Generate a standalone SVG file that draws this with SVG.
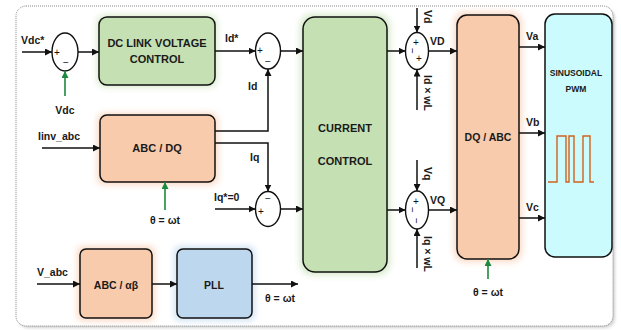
<svg xmlns="http://www.w3.org/2000/svg" width="621" height="330" viewBox="0 0 621 330">
<defs>
<style>
text{font-family:"Liberation Sans",Arial,sans-serif;font-weight:bold;fill:#1a1a1a}
.lbl{font-size:10.5px}
.box{stroke:#111;stroke-width:1.5}
.green{fill:#c5e0b3}
.orange{fill:#f8cbad}
.blue{fill:#bdd7ee}
.cyan{fill:#ccfbfd}
.sum{fill:#fff;stroke:#111;stroke-width:1.4}
.sign{font-size:10px;font-weight:normal;fill:#111}
.ln{fill:none;stroke:#111;stroke-width:1.5}
.gl{fill:none;stroke:#1b8a3c;stroke-width:1.6}
.halo{filter:url(#glow);opacity:0.7}
</style>
<filter id="glow" x="-30%" y="-30%" width="160%" height="160%"><feGaussianBlur stdDeviation="3"/></filter>
<filter id="sh" x="-5%" y="-5%" width="110%" height="110%"><feGaussianBlur stdDeviation="1.5"/></filter>
<marker id="ah" viewBox="0 0 8 8" markerWidth="7" markerHeight="7" refX="8" refY="4" orient="auto" markerUnits="userSpaceOnUse"><path d="M0,0 L8,4 L0,8 z" fill="#111"/></marker>
<marker id="ahg" viewBox="0 0 8 8" markerWidth="7" markerHeight="7" refX="8" refY="4" orient="auto" markerUnits="userSpaceOnUse"><path d="M0,0 L8,4 L0,8 z" fill="#1b8a3c"/></marker>
</defs>
<rect width="621" height="330" fill="#fff"/>
<g id="frame">
<rect x="18" y="8" width="597" height="320" rx="10" fill="#d0d0d0" filter="url(#sh)"/>
<rect x="16" y="6" width="597" height="320" rx="10" fill="#fff" stroke="#8a8a8a" stroke-width="1" stroke-dasharray="1,1"/>
</g>

<g id="dc-link">
<rect class="green halo" x="97" y="15" width="120" height="72" rx="8"/>
<rect class="box green" x="99" y="17" width="116" height="68" rx="8"/>
<text x="157" y="47" text-anchor="middle" font-size="11">DC LINK VOLTAGE</text>
<text x="157" y="63" text-anchor="middle" font-size="11">CONTROL</text>
</g>

<g id="abc-dq">
<rect class="orange halo" x="97" y="113" width="121" height="72" rx="7"/>
<rect class="box orange" x="100" y="115" width="115" height="67" rx="7"/>
<text x="157" y="152" text-anchor="middle" font-size="11">ABC / DQ</text>
</g>

<g id="current-control">
<rect class="green halo" x="300" y="14" width="90" height="261" rx="12"/>
<rect class="box green" x="303" y="17" width="84" height="255" rx="12"/>
<text x="345" y="132" text-anchor="middle" font-size="11">CURRENT</text>
<text x="345" y="165" text-anchor="middle" font-size="11">CONTROL</text>
</g>

<g id="dq-abc">
<rect class="orange halo" x="454" y="12" width="68" height="250" rx="10"/>
<rect class="box orange" x="457" y="15" width="62" height="244" rx="10"/>
<text x="488" y="141" text-anchor="middle" font-size="10.5">DQ / ABC</text>
</g>

<g id="spwm">
<rect class="box cyan" x="545" y="14" width="67" height="243" rx="10"/>
<text x="576" y="76" text-anchor="middle" font-size="8.5">SINUSOIDAL</text>
<text x="576" y="92" text-anchor="middle" font-size="8.5">PWM</text>
<path d="M548,182 H557 V136 H566 V182 H569 V136 H574 V182 H583 V136 H590 V182 H594" fill="none" stroke="#d0611c" stroke-width="1.4"/>
</g>

<g id="abc-ab">
<rect class="orange halo" x="77" y="246" width="78" height="75" rx="6"/>
<rect class="box orange" x="80" y="249" width="72" height="69" rx="6"/>
<text x="116" y="289" text-anchor="middle" font-size="10.5">ABC / αβ</text>
</g>

<g id="pll">
<rect class="blue halo" x="174" y="246" width="81" height="75" rx="6"/>
<rect class="box blue" x="177" y="249" width="75" height="69" rx="6"/>
<text x="214" y="289" text-anchor="middle" font-size="10.5">PLL</text>
</g>

<g id="sum-vdc">
<ellipse class="sum" cx="65" cy="52" rx="13" ry="19"/>
<text class="sign" x="54" y="56">+</text>
<text class="sign" x="63" y="66">−</text>
</g>
<g id="sum-id">
<ellipse class="sum" cx="268" cy="51" rx="12.5" ry="18"/>
<text class="sign" x="257" y="54">+</text>
<text class="sign" x="265" y="65">−</text>
</g>
<g id="sum-iq">
<ellipse class="sum" cx="268" cy="209" rx="12.5" ry="17.5"/>
<text class="sign" x="258" y="215">+</text>
<text class="sign" x="265" y="202">−</text>
</g>
<g id="sum-vd">
<ellipse class="sum" cx="417" cy="51" rx="11.5" ry="18.5"/>
<text class="sign" x="413" y="46">+</text>
<text class="sign" x="416" y="62">+</text>
<text class="sign" transform="translate(409,48) rotate(90)">−</text>
</g>
<g id="sum-vq">
<ellipse class="sum" cx="417" cy="210" rx="11.5" ry="19"/>
<text class="sign" x="413" y="205">+</text>
<text class="sign" transform="translate(409,207) rotate(90)">−</text>
<text class="sign" transform="translate(413,218) rotate(90)">−</text>
</g>

<g id="connectors">
<line class="ln" x1="22" y1="52" x2="52" y2="52" marker-end="url(#ah)"/>
<line class="gl" x1="65" y1="96" x2="65" y2="71" marker-end="url(#ahg)"/>
<line class="ln" x1="78" y1="52" x2="99" y2="52" marker-end="url(#ah)"/>
<line class="ln" x1="215" y1="51" x2="255.5" y2="51" marker-end="url(#ah)"/>
<polyline class="ln" points="215,131 268,131 268,69" marker-end="url(#ah)"/>
<polyline class="ln" points="215,143 268,143 268,191.5" marker-end="url(#ah)"/>
<line class="ln" x1="215" y1="209" x2="255.5" y2="209" marker-end="url(#ah)"/>
<line class="ln" x1="280.5" y1="51" x2="303" y2="51" marker-end="url(#ah)"/>
<line class="ln" x1="280.5" y1="209" x2="303" y2="209" marker-end="url(#ah)"/>
<line class="ln" x1="42" y1="148" x2="100" y2="148" marker-end="url(#ah)"/>
<line class="gl" x1="165" y1="210" x2="165" y2="182" marker-end="url(#ahg)"/>
<line class="ln" x1="387" y1="51" x2="405.5" y2="51" marker-end="url(#ah)"/>
<line class="ln" x1="417" y1="8" x2="417" y2="32.5" marker-end="url(#ah)"/>
<line class="ln" x1="417" y1="110" x2="417" y2="69.5" marker-end="url(#ah)"/>
<line class="ln" x1="428.5" y1="51" x2="457" y2="51" marker-end="url(#ah)"/>
<line class="ln" x1="387" y1="210" x2="405.5" y2="210" marker-end="url(#ah)"/>
<line class="ln" x1="417" y1="160" x2="417" y2="191" marker-end="url(#ah)"/>
<line class="ln" x1="417" y1="268" x2="417" y2="229" marker-end="url(#ah)"/>
<line class="ln" x1="428.5" y1="210" x2="457" y2="210" marker-end="url(#ah)"/>
<line class="gl" x1="488" y1="279" x2="488" y2="259" marker-end="url(#ahg)"/>
<line class="ln" x1="519" y1="47" x2="545" y2="47" marker-end="url(#ah)"/>
<line class="ln" x1="519" y1="133" x2="545" y2="133" marker-end="url(#ah)"/>
<line class="ln" x1="519" y1="218" x2="545" y2="218" marker-end="url(#ah)"/>
<line class="ln" x1="37" y1="284" x2="80" y2="284" marker-end="url(#ah)"/>
<line class="ln" x1="152" y1="284" x2="177" y2="284" marker-end="url(#ah)"/>
<line class="ln" x1="252" y1="284" x2="298" y2="284" marker-end="url(#ah)"/>
</g>

<g id="labels">
<text class="lbl" x="21" y="44">Vdc*</text>
<text class="lbl" x="65" y="114" text-anchor="middle">Vdc</text>
<text class="lbl" x="225" y="42">Id*</text>
<text class="lbl" x="248" y="90">Id</text>
<text class="lbl" x="38" y="140">Iinv_abc</text>
<text class="lbl" x="250" y="161">Iq</text>
<text class="lbl" x="214" y="201">Iq*=0</text>
<text class="lbl" x="165" y="224" text-anchor="middle">θ = ωt</text>
<text class="lbl" x="430" y="45">VD</text>
<text class="lbl" x="430" y="204">VQ</text>
<text class="lbl" transform="translate(424,10) rotate(90)">Vd</text>
<text class="lbl" transform="translate(424,75) rotate(90)">Id × wL</text>
<text class="lbl" transform="translate(424,167) rotate(90)">Vq</text>
<text class="lbl" transform="translate(424,236) rotate(90)">Iq × wL</text>
<text class="lbl" x="526" y="40">Va</text>
<text class="lbl" x="526" y="126">Vb</text>
<text class="lbl" x="526" y="211">Vc</text>
<text class="lbl" x="488" y="296" text-anchor="middle">θ = ωt</text>
<text class="lbl" x="37" y="276">V_abc</text>
<text class="lbl" x="280" y="302" text-anchor="middle">θ = ωt</text>
</g>
</svg>
